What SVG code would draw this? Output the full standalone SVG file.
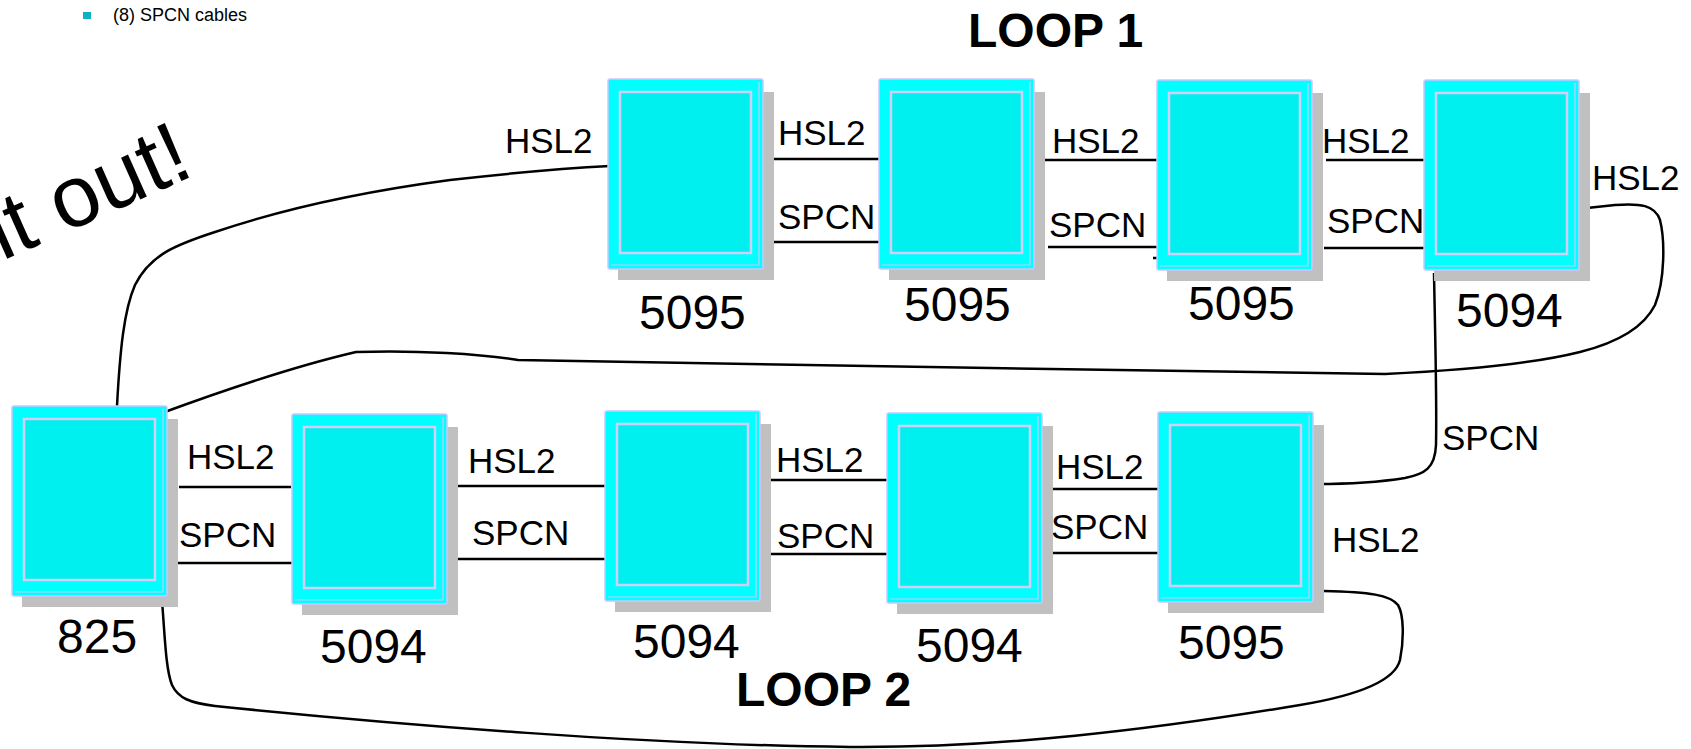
<svg xmlns="http://www.w3.org/2000/svg" width="1691" height="749" viewBox="0 0 1691 749">
<defs>
<style>
.t{font-family:"Liberation Sans",Arial,sans-serif;fill:#000}
.lbl{font-size:35px}
.num{font-size:48px}
.loop{font-size:48px;font-weight:bold}
.sh{fill:#C0C0C0}
.out{fill:#00FFFF;stroke:#C8C8FF;stroke-width:1.5}
.edge{fill:none;stroke:#C8C8FF;stroke-width:1.2}
.in{fill:#00F0F0;stroke:#D0D0FA;stroke-width:2.5}
.c{fill:none;stroke:#000;stroke-width:2.5}
</style>
<g id="box">
<rect class="sh" x="10" y="13" width="156" height="188"/>
<rect class="out" x="0" y="0" width="155" height="190" rx="2"/>
<polyline class="edge" points="151,3 151,186 3,186"/>
<rect class="in" x="12" y="13" width="131" height="161"/>
</g>
</defs>

<rect width="1691" height="749" fill="#fff"/>

<g id="header">
<rect x="83" y="12" width="8" height="7" fill="#10B0C0"/>
<text class="t" x="113" y="21" font-size="18">(8) SPCN cables</text>
<text class="t" font-size="87" transform="translate(2,261) rotate(-24)">it out!</text>
<text class="t loop" x="968" y="47">LOOP 1</text>
<text class="t loop" x="736" y="706">LOOP 2</text>
</g>

<g id="connectors">
<path class="c" d="M117,406 C120,350 124,310 135,285 C150,255 175,245 215,232 C280,210 360,192 450,180 C520,172 570,168 610,166"/>
<path class="c" d="M162,413 C230,388 300,365 356,352 C420,350 480,354 518,360 C800,365 1100,370 1385,374 C1470,370 1540,362 1580,352 C1620,342 1645,325 1655,305 C1665,280 1665,240 1660,220 C1655,205 1640,203 1615,205 L1587,208"/>
<path class="c" d="M1434,273 C1435,330 1437,400 1436,445 C1435,468 1425,474 1405,478 C1380,482 1350,484 1317,484"/>
<path class="c" d="M162,600 C165,640 166,670 172,685 C178,698 190,703 215,706 C400,725 650,745 850,747 C1000,748 1150,730 1300,705 C1360,695 1395,680 1400,660 C1404,640 1404,615 1398,605 C1390,595 1370,592 1324,591"/>
<path class="c" d="M773,159 H881 M773,242 H879 M1044,160 H1159 M1048,247 H1158 M1153,258 H1160 M1326,160 H1432 M1324,248 H1432"/>
<path class="c" d="M179,487 H291 M177,563 H295 M457,486 H608 M455,559 H608 M771,480 H887 M769,554 H888 M1052,489 H1160 M1052,553 H1160"/>
<g class="t lbl">
<text x="505" y="153">HSL2</text>
<text x="778" y="145">HSL2</text>
<text x="778" y="229">SPCN</text>
<text x="1052" y="153">HSL2</text>
<text x="1049" y="237">SPCN</text>
<text x="1322" y="153">HSL2</text>
<text x="1327" y="233">SPCN</text>
<text x="1592" y="190">HSL2</text>
<text x="1442" y="450">SPCN</text>
<text x="187" y="469">HSL2</text>
<text x="179" y="547">SPCN</text>
<text x="468" y="473">HSL2</text>
<text x="472" y="545">SPCN</text>
<text x="776" y="472">HSL2</text>
<text x="777" y="548">SPCN</text>
<text x="1056" y="479">HSL2</text>
<text x="1051" y="539">SPCN</text>
<text x="1332" y="552">HSL2</text>
</g>
</g>

<g id="n1"><use href="#box" x="608" y="79"/><text class="t num" x="639" y="329">5095</text></g>
<g id="n2"><use href="#box" x="879" y="79"/><text class="t num" x="904" y="321">5095</text></g>
<g id="n3"><use href="#box" x="1157" y="80"/><text class="t num" x="1188" y="320">5095</text></g>
<g id="n4"><use href="#box" x="1424" y="80"/><text class="t num" x="1456" y="327">5094</text></g>
<g id="n825"><use href="#box" x="12" y="406"/><text class="t num" x="57" y="653">825</text></g>
<g id="n5"><use href="#box" x="292" y="414"/><text class="t num" x="320" y="663">5094</text></g>
<g id="n6"><use href="#box" x="605" y="411"/><text class="t num" x="633" y="658">5094</text></g>
<g id="n7"><use href="#box" x="887" y="413"/><text class="t num" x="916" y="662">5094</text></g>
<g id="n8"><use href="#box" x="1158" y="412"/><text class="t num" x="1178" y="659">5095</text></g>
</svg>
